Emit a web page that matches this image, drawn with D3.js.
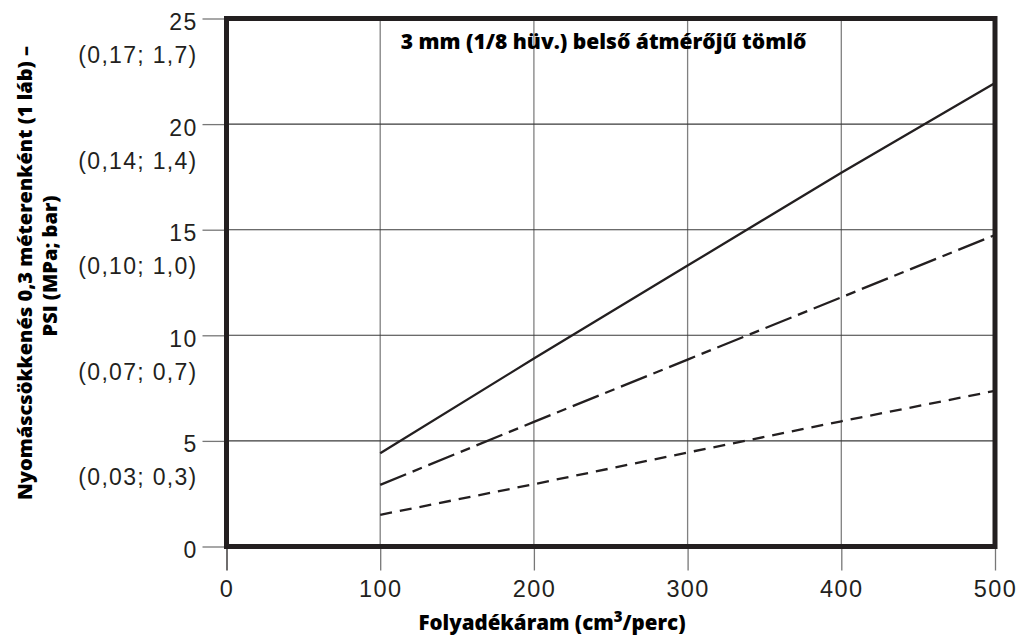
<!DOCTYPE html>
<html>
<head>
<meta charset="utf-8">
<script src="https://cdn.jsdelivr.net/npm/d3@7"></script>
<style>
  body { margin: 0; background: #fff; }
  svg { display: block; }
</style>
</head>
<body>
<svg id="chart" width="1032" height="644"></svg>
<script>
// ---- data ----
const flowRates = [100, 200, 300, 400, 500];
const seriesSolid = [4.42, 8.9, 13.3, 17.7, 21.95];
const seriesDashDot = [2.92, 5.9, 8.85, 11.8, 14.75];
const seriesDashed = [1.5, 2.95, 4.45, 5.93, 7.37];
const xTicks = [0, 100, 200, 300, 400, 500];
const yTicks = [0, 5, 10, 15, 20, 25];
const yTickSecondary = ["", "(0,03; 0,3)", "(0,07; 0,7)", "(0,10; 1,0)", "(0,14; 1,4)", "(0,17; 1,7)"];
const chartTitle = "3 mm (1/8 hüv.) belső átmérőjű tömlő";
const xTitleMain = "Folyadékáram (cm";
const xTitleSup = "3";
const xTitleEnd = "/perc)";
const yTitleLine1 = "Nyomáscsökkenés 0,3 méterenként (1 láb) –";
const yTitleLine2 = "PSI (MPa; bar)";

// ---- layout ----
const svg = d3.select("#chart");
const x = d3.scaleLinear().domain([0, 500]).range([226.5, 995]);
const y = d3.scaleLinear().domain([0, 25]).range([546.5, 18.5]);
const ink = "#231f20";

// grid lines
svg.append("g").selectAll("line").data(xTicks.filter(d => d > 0 && d < 500)).join("line")
  .attr("x1", d => x(d)).attr("x2", d => x(d))
  .attr("y1", y(25)).attr("y2", y(0))
  .attr("stroke", "#808080").attr("stroke-width", 1.3);
svg.append("g").selectAll("line").data(yTicks.filter(d => d > 0 && d < 25)).join("line")
  .attr("x1", x(0)).attr("x2", x(500))
  .attr("y1", d => y(d)).attr("y2", d => y(d))
  .attr("stroke", "#3a3a3a").attr("stroke-width", 1.1);

// y axis ticks
const yAxis = svg.append("g").attr("transform", `translate(${x(0)},0)`)
  .call(d3.axisLeft(y).tickValues(yTicks).tickSize(24).tickPadding(5).tickFormat(d3.format("d")));
yAxis.select(".domain").remove();
yAxis.selectAll(".tick line").attr("stroke", "#777").attr("stroke-width", 1.3);
yAxis.selectAll(".tick text")
  .attr("font-family", "'Liberation Sans', Arial, sans-serif")
  .attr("font-size", 23).attr("letter-spacing", 1.3)
  .attr("fill", ink).attr("dy", null).attr("y", 11);
yAxis.selectAll(".tick").each(function(d, i) {
  d3.select(this).append("text")
    .attr("x", -29).attr("y", 44)
    .attr("text-anchor", "end")
    .attr("font-family", "'Liberation Sans', Arial, sans-serif")
    .attr("font-size", 23).attr("letter-spacing", 1.3)
    .attr("fill", ink)
    .text(yTickSecondary[i]);
});

// x axis ticks
const xAxis = svg.append("g").attr("transform", `translate(0,${y(0)})`)
  .call(d3.axisBottom(x).tickValues(xTicks).tickSize(24).tickPadding(0).tickFormat(d3.format("d")));
xAxis.select(".domain").remove();
xAxis.selectAll(".tick line").attr("stroke", (d) => d === 0 ? ink : "#777").attr("stroke-width", 1.3);
xAxis.selectAll(".tick text")
  .attr("font-family", "'Liberation Sans', Arial, sans-serif")
  .attr("font-size", 23.5).attr("letter-spacing", 1.4)
  .attr("fill", ink).attr("dy", null).attr("y", 50.5);

// data lines
const series = [
  { values: seriesSolid, dash: null },
  { values: seriesDashDot, dash: "28,7,10,7" },
  { values: seriesDashed, dash: "12,8" }
];
const line = d3.line().x(d => x(d[0])).y(d => y(d[1]));
svg.append("g").selectAll("path").data(series).join("path")
  .attr("d", s => line(flowRates.map((f, i) => [f, s.values[i]])))
  .attr("fill", "none").attr("stroke", ink).attr("stroke-width", 2.3)
  .attr("stroke-dasharray", s => s.dash);

// frame
svg.append("rect")
  .attr("x", x(0)).attr("y", y(25))
  .attr("width", x(500) - x(0)).attr("height", y(0) - y(25))
  .attr("fill", "none").attr("stroke", ink).attr("stroke-width", 5);

// titles
const boldFont = "'Open Sans', 'Noto Sans', sans-serif";
svg.append("text")
  .attr("x", 603.5).attr("y", 49)
  .attr("text-anchor", "middle")
  .attr("font-family", boldFont).attr("font-weight", 800).attr("font-size", 21)
  .attr("fill", "#000")
  .text(chartTitle);

const xt = svg.append("text")
  .attr("x", 552).attr("y", 630)
  .attr("text-anchor", "middle")
  .attr("font-family", boldFont).attr("font-weight", 800).attr("font-size", 20.5)
  .attr("fill", "#000");
xt.append("tspan").text(xTitleMain);
xt.append("tspan").attr("font-size", 15).attr("dy", -8).text(xTitleSup);
xt.append("tspan").attr("dy", 8).text(xTitleEnd);

svg.append("text")
  .attr("transform", "translate(32,273) rotate(-90)")
  .attr("text-anchor", "middle")
  .attr("font-family", boldFont).attr("font-weight", 800).attr("font-size", 20)
  .attr("fill", "#000")
  .text(yTitleLine1);
svg.append("text")
  .attr("transform", "translate(57,266) rotate(-90)")
  .attr("text-anchor", "middle")
  .attr("font-family", boldFont).attr("font-weight", 800).attr("font-size", 20)
  .attr("fill", "#000")
  .text(yTitleLine2);
</script>
</body>
</html>
